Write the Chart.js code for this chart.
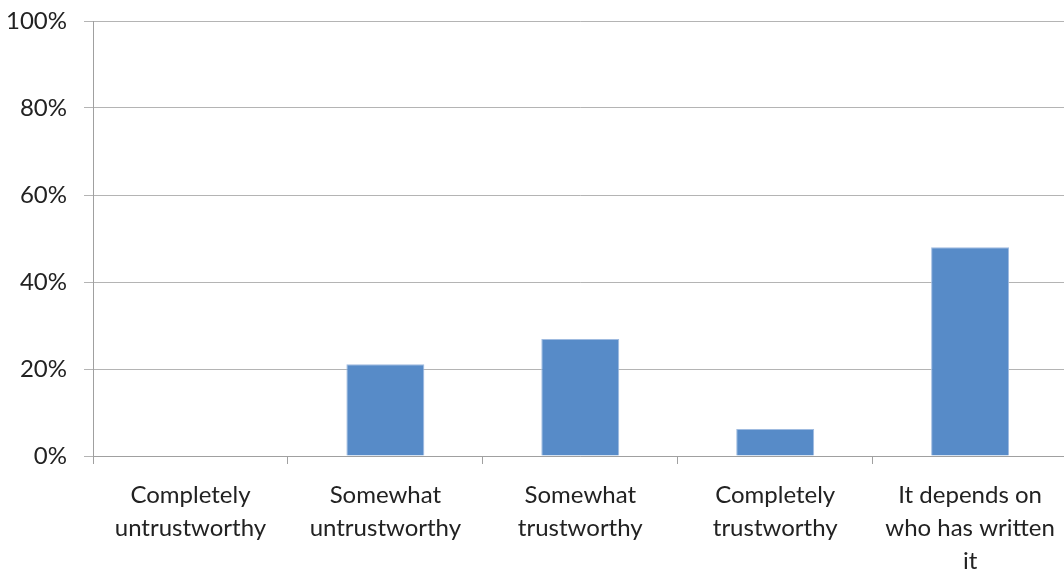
<!DOCTYPE html>
<html>
<head>
<meta charset="utf-8">
<script src="https://cdn.jsdelivr.net/npm/chart.js@4"></script>
<style>
  html, body { margin: 0; padding: 0; background: #fff; overflow: hidden; }
  #wrap { width: 1070px; height: 577px; }
</style>
</head>
<body>
<div id="wrap"><canvas id="trustChart"></canvas></div>
<script>
// answers and share of respondents (%)
var categories = [
    ['Completely', 'untrustworthy'],
    ['Somewhat', 'untrustworthy'],
    ['Somewhat', 'trustworthy'],
    ['Completely', 'trustworthy'],
    ['It depends on', 'who has written', 'it']
];
var shares = [0, 21.1, 26.9, 6.2, 48.0];
var yTicks = [0, 20, 40, 60, 80, 100];

var labelFont = { family: 'Lato', size: 24, lineHeight: 1.375 };

var ctx = document.getElementById("trustChart").getContext('2d');

var myChart = new Chart(ctx, {
    type: 'bar',
    data: {
        labels: categories,
        datasets: [{
            data: shares,
            backgroundColor: '#578bc8',
            borderColor: '#9fbbe0',
            borderWidth: 1,
            categoryPercentage: 1,
            barPercentage: 0.4
        }]
    },
    options: {
        responsive: true,
        maintainAspectRatio: false,
        animation: false,
        layout: { padding: { top: 21, left: 0, right: 1, bottom: 0 } },
        plugins: {
            legend: { display: false },
            tooltip: { enabled: false }
        },
        scales: {
            y: {
                min: 0,
                max: 100,
                afterBuildTicks: function(axis) {
                    axis.ticks = yTicks.map(function(v) { return { value: v }; });
                },
                afterFit: function(axis) {
                    axis.width = 93;
                    axis.paddingTop = 0;
                    axis.paddingBottom = 0;
                },
                ticks: {
                    callback: function(v) { return v + '%'; },
                    color: '#222',
                    font: labelFont,
                    padding: 17
                },
                grid: { color: '#b4b4b4', lineWidth: 1, tickLength: 9 },
                border: { color: '#a0a0a0' }
            },
            x: {
                afterFit: function(axis) { axis.height = 121; },
                ticks: {
                    color: '#222',
                    font: labelFont,
                    padding: 15,
                    maxRotation: 0,
                    autoSkip: false
                },
                grid: { offset: true, drawOnChartArea: false, color: '#a0a0a0', tickLength: 8 },
                border: { color: '#a0a0a0' }
            }
        }
    }
});
</script>
</body>
</html>
